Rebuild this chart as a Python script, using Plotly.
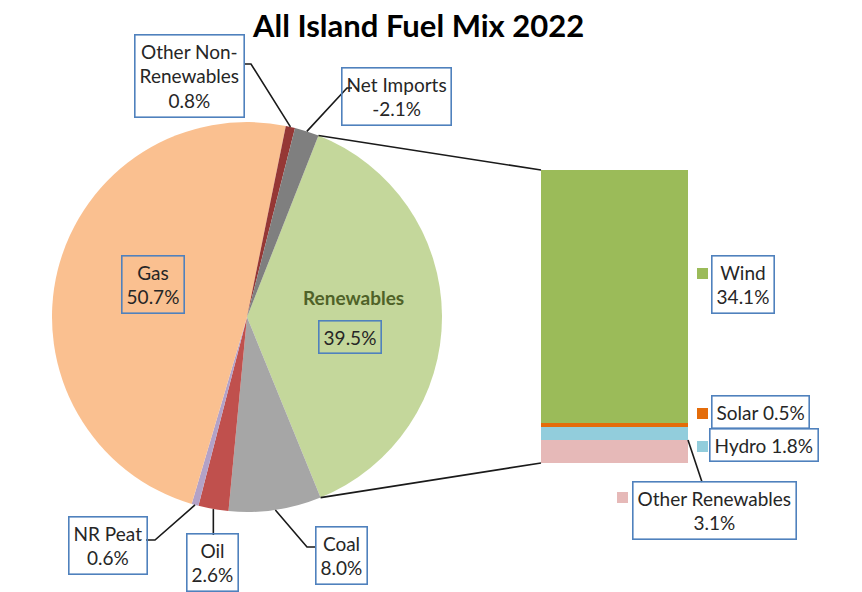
import math
import plotly.graph_objects as go

W, H = 862, 592

# All-island fuel mix shares (%), listed clockwise starting with renewables
fuels = ["Renewables", "Coal", "Oil", "NR Peat", "Gas", "Other Non-Renewables", "Net Imports"]
shares = [39.5, 8.0, 2.6, 0.6, 50.7, 0.8, -2.1]
fuel_colors = ["#C4D79B", "#A6A6A6", "#C0504D", "#B3A2C7", "#FAC090", "#953735", "#7F7F7F"]

# Renewables breakdown (%), bottom to top of the stacked bar
ren_sources = ["Other Renewables", "Hydro", "Solar", "Wind"]
ren_shares = [3.1, 1.8, 0.5, 34.1]
ren_colors = ["#E6B9B8", "#92CDDC", "#E46C0A", "#9BBB59"]

TITLE = "All Island Fuel Mix 2022"

# ---- geometry (pixels) ----
PIE_CX, PIE_CY, PIE_R = 247, 317, 195
ROTATION = 21.5
BAR_X0, BAR_X1, BAR_TOP, BAR_BOTTOM = 541, 688, 170, 463

BORDER = "#4F81BD"
TEXT = "#262626"
FONT = "Lato, sans-serif"
FS = 19


def px(x, y):
    """pixel -> paper coordinates"""
    return x / W, 1 - y / H


pie_vals = [abs(v) for v in shares]
pie_total = sum(pie_vals)
ren_total = sum(ren_shares)


def pie_point(angle_deg, r=PIE_R):
    a = math.radians(angle_deg)
    return PIE_CX + r * math.sin(a), PIE_CY - r * math.cos(a)


def slice_angles(i):
    start = ROTATION + 360 * sum(pie_vals[:i]) / pie_total
    end = start + 360 * pie_vals[i] / pie_total
    return start, end


def bar_y(v):
    return BAR_BOTTOM - v / ren_total * (BAR_BOTTOM - BAR_TOP)


fig = go.Figure()

fig.add_trace(go.Pie(
    labels=fuels, values=pie_vals, sort=False, direction="clockwise",
    rotation=ROTATION, marker=dict(colors=fuel_colors, line=dict(width=0)),
    textinfo="none",
    customdata=shares,
    hovertemplate="%{label}: %{customdata:.1f}%<extra></extra>",
    domain=dict(x=[(PIE_CX - PIE_R) / W, (PIE_CX + PIE_R) / W],
                y=[(H - PIE_CY - PIE_R) / H, (H - PIE_CY + PIE_R) / H]),
    showlegend=False,
))

for name, val, col in zip(ren_sources, ren_shares, ren_colors):
    fig.add_trace(go.Bar(
        x=[0], y=[val], width=1, name=name, marker=dict(color=col, line=dict(width=0)),
        xaxis="x", yaxis="y", showlegend=False,
        hovertemplate=f"{name}: {val:.1f}%<extra></extra>",
    ))

shapes = []
annotations = []


def line_path(points):
    pts = [px(x, y) for x, y in points]
    d = "M " + " L ".join(f"{x:.5f},{y:.5f}" for x, y in pts)
    return dict(type="path", path=d, xref="paper", yref="paper",
                line=dict(color="#1a1a1a", width=1.6), layer="above")


# connectors from the renewables slice to the bar
r_start, r_end = slice_angles(0)
shapes.append(line_path([pie_point(r_start), (BAR_X0, BAR_TOP)]))
shapes.append(line_path([pie_point(r_end), (BAR_X0, BAR_BOTTOM)]))


def boxed(text, x, y, **kw):
    ax, ay = px(x, y)
    d = dict(text=text, x=ax, y=ay, xref="paper", yref="paper",
             xanchor="center", yanchor="middle", showarrow=False,
             font=dict(family=FONT, size=FS, color=TEXT),
             bordercolor=BORDER, borderwidth=1.6, borderpad=4, align="center")
    d.update(kw)
    annotations.append(d)


def mid_angle(i):
    s, e = slice_angles(i)
    return (s + e) / 2


idx = {f: i for i, f in enumerate(fuels)}


def fmt(v):
    return f"{v:.1f}%"


# labels inside the pie
boxed(f"Gas<br>{fmt(shares[idx['Gas']])}", 153, 284)
annotations.append(dict(text="<b>Renewables</b>", x=px(353, 297)[0], y=px(353, 297)[1],
                        xref="paper", yref="paper", showarrow=False,
                        xanchor="center", yanchor="middle",
                        font=dict(family=FONT, size=FS, color="#4F6228")))
boxed(fmt(shares[idx['Renewables']]), 350, 337)

# labels outside the pie, with leader lines
boxed(f"Other Non-<br>Renewables<br>{fmt(shares[idx['Other Non-Renewables']])}", 189, 76)
shapes.append(line_path([(245, 64), (251, 64), pie_point(mid_angle(idx['Other Non-Renewables']))]))

boxed(f"Net Imports<br>{fmt(shares[idx['Net Imports']])}", 396, 96)
shapes.append(line_path([(352, 88), (347, 88), pie_point(mid_angle(idx['Net Imports']))]))

boxed(f"NR Peat<br>{fmt(shares[idx['NR Peat']])}", 108, 545)
shapes.append(line_path([(146, 540), (155, 540), pie_point(mid_angle(idx['NR Peat']))]))

boxed(f"Oil<br>{fmt(shares[idx['Oil']])}", 212, 562)
oil_pt = pie_point(mid_angle(idx['Oil']))
shapes.append(line_path([(oil_pt[0], 535), oil_pt]))

boxed(f"Coal<br>{fmt(shares[idx['Coal']])}", 341, 555)
shapes.append(line_path([(315, 547), (307, 547), pie_point(mid_angle(idx['Coal']))]))

# bar labels with colour keys
ri = {s: i for i, s in enumerate(ren_sources)}
boxed(f"Wind<br>{fmt(ren_shares[ri['Wind']])}", 743, 285)
boxed(f"Solar {fmt(ren_shares[ri['Solar']])}", 760, 412)
boxed(f"Hydro {fmt(ren_shares[ri['Hydro']])}", 764, 445)
boxed(f"Other Renewables<br>{fmt(ren_shares[ri['Other Renewables']])}", 714, 510)
shapes.append(line_path([(702, 482), (BAR_X1, bar_y(ren_shares[ri['Other Renewables']]))]))

key_pos = {"Wind": (697, 268), "Solar": (697, 408), "Hydro": (697, 441), "Other Renewables": (617, 492)}
for name, (kx, ky) in key_pos.items():
    x0, y0 = px(kx, ky)
    x1, y1 = px(kx + 11, ky + 11)
    shapes.append(dict(type="rect", xref="paper", yref="paper", x0=x0, y0=y1, x1=x1, y1=y0,
                       fillcolor=ren_colors[ri[name]], line=dict(width=0), layer="above"))

# title
annotations.append(dict(text=f"<b>{TITLE}</b>", x=px(418, 25)[0], y=px(418, 25)[1],
                        xref="paper", yref="paper", showarrow=False,
                        xanchor="center", yanchor="middle",
                        font=dict(family=FONT, size=31, color="#000000")))

fig.update_layout(
    width=W, height=H, autosize=False,
    margin=dict(l=0, r=0, t=0, b=0),
    paper_bgcolor="white", plot_bgcolor="white",
    barmode="stack", bargap=0,
    xaxis=dict(domain=[BAR_X0 / W, BAR_X1 / W], range=[-0.5, 0.5], visible=False, fixedrange=True),
    yaxis=dict(domain=[(H - BAR_BOTTOM) / H, (H - BAR_TOP) / H], range=[0, ren_total],
               visible=False, fixedrange=True),
    shapes=shapes, annotations=annotations,
    showlegend=False,
)

fig.write_html("out.html")
